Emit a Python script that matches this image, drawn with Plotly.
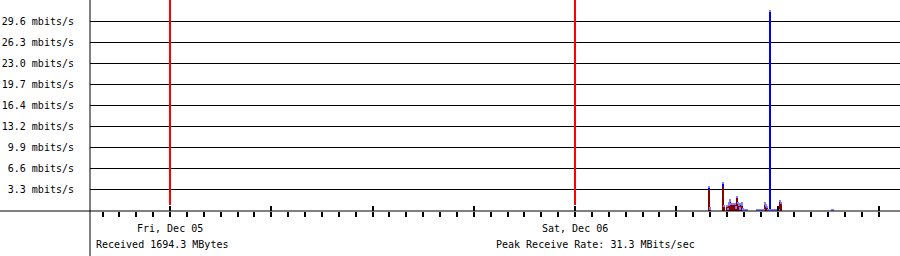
import plotly.graph_objects as go

# ---- data (hours since Fri Dec 05 00:00, values in mbits/s) ----
sample_hours = [31.941, 32.000, 32.770, 32.830, 33.007, 33.067, 33.126, 33.185, 33.244, 33.304,
                33.363, 33.422, 33.481, 33.541, 33.600, 33.659, 33.719, 33.778, 33.837, 33.896,
                33.956, 34.015, 34.074, 34.133, 34.193, 34.785, 34.844, 34.904, 34.963, 35.022,
                35.081, 35.141, 35.200, 35.259, 35.319, 35.378, 35.437, 35.496, 35.556, 35.615,
                35.674, 35.733, 35.793, 35.852, 35.911, 35.970, 36.030, 36.089, 36.148, 36.207,
                39.230, 39.289]
red_vals = [3.40, 0.30, 3.74, 0.60, 0.60, 0.30, 0.85, 1.45, 1.05, 1.05,
            1.05, 1.05, 1.05, 0.45, 2.00, 1.05, 0.80, 0.30, 0.95, 0.80,
            0.15, 0.00, 0.00, 0.00, 0.00, 0.00, 0.00, 0.00, 0.00, 0.00,
            0.00, 0.00, 0.00, 0.90, 0.70, 0.45, 0.00, 0.00, 0.00, 0.00,
            0.00, 0.00, 0.00, 0.00, 0.00, 0.00, 0.00, 0.00, 1.35, 1.10,
            0.00, 0.00]
blue_vals = [0.30, 0.00, 0.40, 0.00, 0.00, 0.00, 0.00, 0.00, 0.00, 0.00,
             0.00, 0.00, 0.00, 0.00, 0.00, 0.00, 0.00, 0.00, 0.00, 0.00,
             0.00, 0.00, 0.00, 0.00, 0.00, 0.00, 0.00, 0.00, 0.00, 0.00,
             0.00, 0.00, 0.00, 0.00, 0.00, 0.00, 0.00, 0.00, 31.14, 0.00,
             0.00, 0.00, 0.00, 0.00, 0.00, 0.00, 0.00, 0.00, 0.00, 0.00,
             0.00, 0.00]
lightblue_vals = [0.25, 0.30, 0.38, 0.35, 0.35, 0.20, 0.55, 0.40, 0.25, 0.25,
                  0.25, 0.25, 0.25, 0.30, 0.35, 0.40, 0.40, 0.30, 0.35, 0.55,
                  0.25, 0.16, 0.16, 0.16, 0.16, 0.16, 0.16, 0.16, 0.16, 0.16,
                  0.16, 0.16, 0.16, 0.45, 0.40, 0.35, 0.16, 0.16, 0.16, 0.16,
                  0.16, 0.16, 0.16, 0.16, 0.16, 0.16, 0.16, 0.16, 0.35, 0.35,
                  0.16, 0.16]

y_tick_vals = [3.289 * k for k in range(1, 10)]
y_tick_text = ["3.3 mbits/s", "6.6 mbits/s", "9.9 mbits/s", "13.2 mbits/s", "16.4 mbits/s",
               "19.7 mbits/s", "23.0 mbits/s", "26.3 mbits/s", "29.6 mbits/s"]
y_max = 32.89

hour_ticks = list(range(-4, 43))
major_ticks = list(range(0, 43, 6))
day_bounds = [0, 24]
day_labels = ["Fri, Dec 05", "Sat, Dec 06"]
summary_texts = ["Received 1694.3 MBytes", "Peak Receive Rate: 31.3 MBits/sec"]
x_range = [-4.7407, 43.259]

W, H = 900, 256
L, B = 90, 45
plot_w, plot_h = W - L, H - B
summary_px = [5, 405]  # left offsets of the summary lines from the y axis (layout)
font = dict(family="DejaVu Sans Mono, Liberation Mono, monospace", size=10, color="black")
bar_w = 1.2 / 16.875

fig = go.Figure()
for vals, col in [(red_vals, "#880000"), (blue_vals, "#0000ff"), (lightblue_vals, "#8080ff")]:
    fig.add_trace(go.Bar(x=sample_hours, y=vals, width=bar_w, marker=dict(color=col, line=dict(width=0)),
                         showlegend=False, hoverinfo="skip"))

fig.update_layout(
    width=W, height=H, margin=dict(l=L, r=0, t=0, b=B),
    paper_bgcolor="white", plot_bgcolor="white", barmode="stack", bargap=0,
    font=font, showlegend=False,
    xaxis=dict(range=x_range, tickvals=hour_ticks, ticks="outside", ticklen=5, tickwidth=2,
               tickcolor="black", showticklabels=False, showgrid=False, zeroline=False,
               showline=False, fixedrange=True),
    xaxis2=dict(range=x_range, overlaying="x", anchor="y", side="bottom", tickvals=major_ticks,
                ticks="inside", ticklen=5, tickwidth=2, tickcolor="black", showticklabels=False,
                showgrid=False, zeroline=False, showline=False),
    yaxis=dict(range=[0, y_max], tickvals=y_tick_vals, ticktext=y_tick_text, ticks="",
               showgrid=True, gridcolor="black", gridwidth=1, zeroline=False, showline=False,
               ticklabelstandoff=15, tickfont=font, fixedrange=True),
)
# dummy trace to activate xaxis2
fig.add_trace(go.Scatter(x=[x_range[0]], y=[0], xaxis="x2", mode="markers",
                         marker=dict(opacity=0), showlegend=False, hoverinfo="skip"))

# baseline across full width, left axis line down to bottom
fig.add_shape(type="line", xref="paper", yref="paper", x0=-L / plot_w, x1=1, y0=0, y1=0,
              line=dict(color="black", width=1))
fig.add_shape(type="line", xref="paper", yref="paper", x0=0, x1=0, y0=-B / plot_h, y1=1,
              line=dict(color="black", width=1))
# day boundary markers
for d in day_bounds:
    fig.add_shape(type="line", xref="x", yref="paper", x0=d, x1=d, y0=6 / plot_h, y1=1,
                  line=dict(color="#ff0000", width=2), layer="above")

for d, lab in zip(day_bounds, day_labels):
    fig.add_annotation(x=d, xref="x", y=-17 / plot_h, yref="paper", text=lab, showarrow=False,
                       xanchor="center", yanchor="middle", font=font)
for px, txt in zip(summary_px, summary_texts):
    fig.add_annotation(x=px / plot_w, xref="paper", y=-33 / plot_h,
                       yref="paper", text=txt, showarrow=False, xanchor="left",
                       yanchor="middle", font=font, xshift=-1)

fig.write_html("out.html")
